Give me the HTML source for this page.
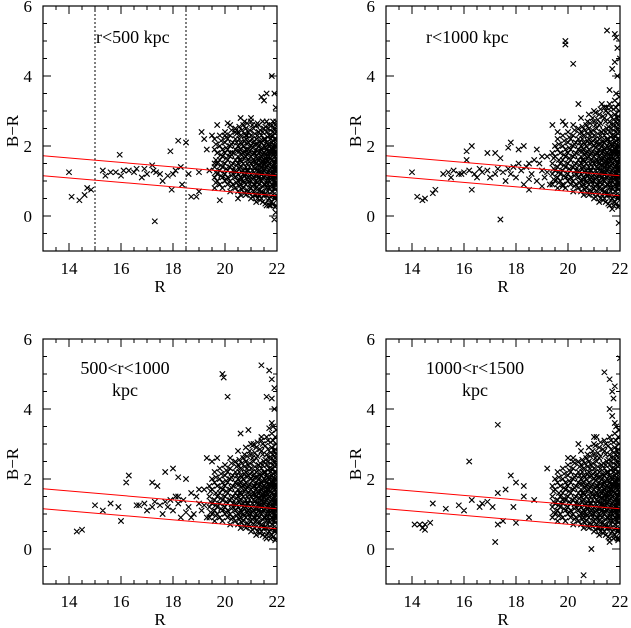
<!DOCTYPE html>
<html><head><meta charset="utf-8">
<style>
html,body{margin:0;padding:0;background:#fff;}
svg{display:block;font-family:"Liberation Serif",serif;}
</style></head>
<body>
<svg id="fig" width="631" height="628" viewBox="0 0 631 628" xmlns="http://www.w3.org/2000/svg"></svg>
<script>
// ---------- data ----------
const cloudX = [19.4,19.5,19.6,19.7,19.8,19.9,20.0,20.1,20.2,20.3,20.4,20.5,20.6,20.7,20.8,20.9,21.0,21.1,21.2,21.3,21.4,21.5,21.6,21.7,21.8,21.9,21.97];
const cloudY = [
 [1.2,1.5,0.9,1.8],
 [1.0,1.3,1.7,2.0],
 [1.4,1.1,1.9,0.8,2.2],
 [1.2,1.5,1.8,1.0],
 [0.9,1.3,1.6,2.0,2.3],
 [1.1,1.4,1.7,1.9,0.8],
 [1.0,1.2,1.5,1.8,2.1,2.4],
 [0.9,1.3,1.6,1.9,2.2,1.1],
 [0.7,1.0,1.4,1.7,2.0,2.3,2.6],
 [0.9,1.2,1.5,1.8,2.1,1.3],
 [0.8,1.1,1.3,1.6,1.9,2.2,2.5],
 [0.7,1.0,1.2,1.5,1.7,2.0,2.4,2.8],
 [0.9,1.1,1.4,1.6,1.9,2.1,2.3,0.6],
 [0.8,1.0,1.3,1.5,1.8,2.0,2.6,1.2],
 [0.6,0.9,1.2,1.4,1.7,1.9,2.2,2.5,2.9],
 [0.7,1.0,1.1,1.3,1.6,1.8,2.1,2.4],
 [0.5,0.8,1.0,1.2,1.5,1.7,2.0,2.3,2.7,3.0],
 [0.7,0.9,1.1,1.4,1.6,1.8,2.1,2.5],
 [0.4,0.8,1.0,1.2,1.3,1.5,1.7,1.9,2.2,2.6,2.9],
 [0.6,0.9,1.1,1.3,1.6,1.8,2.0,2.4],
 [0.5,0.7,1.0,1.2,1.4,1.5,1.7,1.9,2.1,2.3,2.8,3.1],
 [0.6,0.9,1.1,1.3,1.5,1.6,1.8,2.0,2.2,2.5],
 [0.3,0.6,0.8,1.0,1.2,1.4,1.6,1.7,1.9,2.1,2.4,2.7,3.2],
 [0.5,0.8,1.0,1.1,1.3,1.5,1.7,1.8,2.0,2.3,2.6],
 [0.4,0.7,0.9,1.1,1.2,1.4,1.6,1.8,1.9,2.1,2.3,2.6,2.9,3.3],
 [0.5,0.8,1.0,1.2,1.3,1.5,1.7,1.9,2.0,2.2,2.5,2.8],
 [0.3,0.6,0.9,1.1,1.3,1.4,1.6,1.8,2.0,2.2,2.4,2.7,3.0,3.4]
];
const cloudX2 = [19.45,19.65,19.85,20.05,20.25,20.45,20.55,20.65,20.75,20.85,20.95,21.05,21.15,21.25,21.35,21.45,21.55,21.65,21.75,21.85,21.93];
const cloudY2 = [
 [1.35,1.05,1.65],
 [1.25,1.6,0.95,2.05],
 [1.15,1.45,1.75,2.15],
 [1.05,1.35,1.65,1.95,2.25],
 [0.85,1.15,1.45,1.75,2.05,2.45],
 [0.95,1.25,1.45,1.85,2.1,2.35],
 [0.85,1.05,1.35,1.6,1.85,2.2,2.55],
 [0.75,1.05,1.25,1.55,1.75,2.05,2.45],
 [0.65,0.95,1.15,1.35,1.65,1.85,2.15,2.35,2.7],
 [0.75,1.05,1.3,1.5,1.75,2.05,2.3,2.65],
 [0.65,0.9,1.15,1.4,1.55,1.85,2.15,2.45,2.8],
 [0.55,0.85,1.05,1.3,1.55,1.75,1.95,2.2,2.6,2.95],
 [0.6,0.9,1.15,1.35,1.55,1.8,2.05,2.35,2.75],
 [0.5,0.75,0.95,1.15,1.45,1.65,1.85,2.05,2.3,2.65,3.05],
 [0.45,0.75,1.05,1.25,1.45,1.65,1.85,2.15,2.45,2.85],
 [0.4,0.65,0.85,1.05,1.25,1.35,1.55,1.75,1.95,2.15,2.4,2.7,3.0],
 [0.35,0.65,0.9,1.15,1.35,1.55,1.75,1.95,2.2,2.55,2.95],
 [0.45,0.7,0.9,1.05,1.25,1.45,1.55,1.85,2.05,2.25,2.5,2.85,3.1],
 [0.3,0.55,0.85,1.05,1.25,1.35,1.65,1.85,2.05,2.2,2.45,2.75,3.05],
 [0.35,0.6,0.85,1.05,1.25,1.45,1.55,1.75,1.95,2.15,2.4,2.7,3.1,3.5],
 [0.25,0.5,0.75,0.95,1.15,1.35,1.55,1.7,1.85,2.1,2.35,2.6,2.85,3.2]
];
const bandPts = [[15.2,1.2],[15.4,1.25],[15.6,1.3],[15.8,1.2],[16.0,1.25],[16.2,1.3],[16.4,1.2],[16.5,1.1],[16.7,1.25],[16.9,1.3],[17.0,1.1],[17.2,1.2],[17.3,1.35],[17.5,1.25],[17.6,1.0],[17.8,1.2],[17.9,1.4],[18.0,1.1],[18.2,1.3],[18.3,0.9],[18.4,1.4],[18.6,1.2],[18.7,1.6],[18.8,1.0],[18.9,1.5],[19.0,1.3],[19.1,1.1],[19.2,1.7],[19.3,0.9],[18.5,1.05],[18.1,1.5],[17.7,1.35],[19.0,1.7],[19.2,1.25]];
const p1Pts = [[14,1.25],[14.1,0.55],[14.4,0.45],[14.6,0.6],[14.7,0.8],[14.85,0.75],[15.3,1.3],[15.4,1.15],[15.6,1.25],[15.8,1.25],[15.95,1.75],[16,1.15],[16.1,1.3],[16.3,1.3],[16.5,1.25],[16.6,1.35],[16.8,1.1],[16.9,1.35],[17,1.2],[17.2,1.45],[17.25,1.3],[17.3,-0.15],[17.35,1.25],[17.5,1.2],[17.6,1.0],[17.8,1.15],[17.9,1.85],[17.95,0.75],[18,1.2],[18.1,1.3],[18.2,2.15],[18.3,1.4],[18.35,0.9],[18.5,2.1],[18.6,1.2],[18.7,0.55],[18.9,0.55],[19,0.7],[19,1.25],[19.1,2.4],[19.2,2.2],[19.3,1.9],[19.4,1.3],[19.5,2.3],[19.6,1.5],[19.7,2.6],[19.8,0.45],[19.9,1.1],[20,2.3],[20.1,2.65],[20.2,1.8],[20.3,1.5],[20.4,2.4],[20.5,0.5],[20.6,2.8],[20.7,1.3],[20.8,2.3],[20.9,1.9],[21,2.8],[21.1,1.4],[21.2,0.6],[21.3,2.6],[21.4,3.4],[21.5,3.3],[21.6,3.5],[21.7,0.3],[21.8,4.0],[21.9,3.5],[21.95,3.1],[21.9,-0.1],[21.95,0.1]];
const p2Pts = [[14,1.25],[14.2,0.55],[14.5,0.5],[14.4,0.45],[14.8,0.65],[14.9,0.75],[15.5,1.1],[15.9,1.2],[16.1,1.6],[16.1,1.85],[16.3,2.0],[16.3,0.75],[16.6,1.35],[16.9,1.8],[17.2,1.8],[17.4,-0.1],[17.4,1.65],[17.7,1.95],[17.8,2.1],[18.1,1.9],[18.3,2.0],[18.5,1.5],[18.5,0.75],[18.8,1.9],[19.0,0.85],[19.8,0.85],[19.9,5.0],[19.9,4.9],[20.2,4.35],[21.5,5.3],[21.8,5.2],[21.85,5.1],[21.9,4.8],[21.8,4.4],[21.7,4.2],[22,4.5],[21.9,4.0],[21.6,3.6],[21.3,3.2],[21.5,3.1],[20.4,3.2],[19.4,2.6],[19.6,2.4],[19.8,2.7],[19.9,2.6],[21.7,0.2],[21.95,-0.2]];
const p3Pts = [[15,1.25],[14.3,0.5],[14.5,0.55],[15.3,1.1],[15.6,1.3],[15.9,1.2],[16,0.8],[16.2,1.9],[16.3,2.1],[16.6,1.25],[17.2,1.9],[17.4,1.8],[17.7,2.2],[18.0,2.3],[18.2,2.05],[18.5,2.0],[18.2,1.5],[18.7,0.9],[19.3,2.6],[19.5,2.5],[19.7,2.6],[19.9,5.0],[19.95,4.9],[20.1,4.35],[21.4,5.25],[21.7,5.1],[21.8,4.85],[21.9,4.6],[21.8,4.3],[21.6,4.35],[21.9,4.0],[21.7,3.45],[21.4,3.2],[20.6,3.3],[20.9,3.4],[21.1,3.0],[21.8,3.6],[21.6,0.4]];
const p4Pts = [[14.1,0.7],[14.3,0.7],[14.4,0.6],[14.5,0.55],[14.5,0.7],[14.7,0.75],[14.8,1.3],[15.3,1.15],[15.8,1.25],[16.0,1.1],[16.2,2.5],[16.3,1.4],[16.6,1.2],[16.7,1.3],[16.9,1.35],[17.1,1.2],[17.2,0.2],[17.3,3.55],[17.3,1.6],[17.3,0.7],[17.5,0.8],[17.6,1.7],[17.8,2.1],[17.9,1.2],[18.0,1.9],[18.0,0.75],[18.3,1.5],[18.3,1.8],[18.5,0.9],[18.7,1.4],[19.2,2.3],[19.8,1.4],[20.0,2.6],[20.2,2.5],[20.4,3.0],[20.6,1.0],[21.0,3.2],[21.1,3.2],[20.9,0.0],[20.6,-0.75],[21.4,5.05],[21.6,4.85],[22,5.45],[21.7,4.5],[21.8,4.65],[21.75,4.3],[21.6,4.0],[21.7,3.8],[21.8,3.6],[21.95,3.4],[21.9,0.3],[21.2,0.6],[21.6,0.2]];
const xTicks = [14,16,18,20,22];
const yTicks = [0,2,4,6];
const fitUpper = [[13,1.72],[22,1.15]];
const fitLower = [[13,1.15],[22,0.58]];
const dotLines = [15,18.5];

// ---------- drawing ----------
const NS = "http://www.w3.org/2000/svg";
const svg = document.getElementById('fig');
function mk(tag, attrs, parent){
  const e = document.createElementNS(NS, tag);
  for (const k in attrs) e.setAttribute(k, attrs[k]);
  (parent||svg).appendChild(e);
  return e;
}
function cloudPts(maxY){
  const out=[];
  cloudX.forEach((x,i)=>cloudY[i].forEach(y=>{ if(y<=maxY) out.push([x,y]); }));
  cloudX2.forEach((x,i)=>cloudY2[i].forEach(y=>{ if(y<=maxY) out.push([x,y]); }));
  return out;
}
const panels = [
  {ox:43, oy:6, name:'panel-r-lt-500', pts:p1Pts.concat(cloudPts(2.7).filter(p=>p[0]>=19.6)), labels:['r<500 kpc'], lx:[96], ly:[43], anchor:'start', dots:true},
  {ox:386, oy:6, name:'panel-r-lt-1000', pts:p2Pts.concat(bandPts, cloudPts(9)), labels:['r<1000 kpc'], lx:[426], ly:[43], anchor:'start', dots:false},
  {ox:43, oy:339, name:'panel-500-1000', pts:p3Pts.concat(bandPts.filter(p=>p[0]>16.5), cloudPts(9)), labels:['500<r<1000','kpc'], lx:[125,125], ly:[374,396], anchor:'middle', dots:false},
  {ox:386, oy:339, name:'panel-1000-1500', pts:p4Pts.concat(cloudPts(9)), labels:['1000<r<1500','kpc'], lx:[475,475], ly:[374,396], anchor:'middle', dots:false}
];
const W = 234, H = 245;
panels.forEach(P=>{
  const g = mk('g',{});
  
  
  const sx = v => P.ox + (v-13)/9*W;
  const sy = v => P.oy + (6-v)/7*H;
  const cid = 'c'+P.name;
  const cp = mk('clipPath',{id:cid},g);
  mk('rect',{x:P.ox,y:P.oy,width:W,height:H},cp);
  const pg = mk('g',{'clip-path':'url(#'+cid+')',stroke:'#000','stroke-width':'1.1',fill:'none'},g);
  
  
  let d='';
  P.pts.forEach(p=>{
    const x=sx(p[0]), y=sy(p[1]), s=2.7;
    d+=`M${(x-s).toFixed(1)} ${(y-s).toFixed(1)}L${(x+s).toFixed(1)} ${(y+s).toFixed(1)}M${(x-s).toFixed(1)} ${(y+s).toFixed(1)}L${(x+s).toFixed(1)} ${(y-s).toFixed(1)}`;
  });
  const pp = mk('path',{d:d},pg);
  
  
  [fitUpper, fitLower].forEach((L,i)=>{
    const l = mk('line',{x1:sx(L[0][0]),y1:sy(L[0][1]),x2:sx(L[1][0]),y2:sy(L[1][1]),stroke:'#ff0000','stroke-width':'1'},g);
    
    
  });
  if (P.dots){
    dotLines.forEach(v=>{
      const l = mk('line',{x1:sx(v),y1:P.oy,x2:sx(v),y2:P.oy+H,stroke:'#000','stroke-width':'1','stroke-dasharray':'2,2'},g);
      
      
    });
  }
  let td='';
  for (let v=13; v<=22.001; v+=0.5){
    const x=sx(v), len = (Math.abs(v%2)<0.01)?8:4;
    td+=`M${x} ${P.oy+H}v${-len}M${x} ${P.oy}v${len}`;
  }
  for (let v=-1; v<=6.001; v+=0.5){
    const y=sy(v), len = (Math.abs(v%2)<0.01)?8:4;
    td+=`M${P.ox} ${y}h${len}M${P.ox+W} ${y}h${-len}`;
  }
  const tk = mk('path',{d:td,stroke:'#000','stroke-width':'1',fill:'none'},g);
  
  
  const fr = mk('rect',{x:P.ox,y:P.oy,width:W,height:H,fill:'none',stroke:'#000','stroke-width':'1.2'},g);
  
  
  xTicks.forEach(v=>{
    const t = mk('text',{x:sx(v),y:P.oy+H+23,'text-anchor':'middle','font-size':'17'},g);
    
    
    t.textContent = v;
  });
  yTicks.forEach(v=>{
    const t = mk('text',{x:P.ox-11,y:sy(v)+6,'text-anchor':'end','font-size':'17'},g);
    
    
    t.textContent = v;
  });
  const xt = mk('text',{x:P.ox+W/2,y:P.oy+H+41,'text-anchor':'middle','font-size':'17'},g);
  
  
  xt.textContent='R';
  const yt = mk('text',{x:0,y:0,'text-anchor':'middle','font-size':'17',transform:`translate(${P.ox-25},${P.oy+125}) rotate(-90)`},g);
  
  
  yt.textContent='B\u2212R';
  P.labels.forEach((s,i)=>{
    const t = mk('text',{x:P.lx[i],y:P.ly[i],'text-anchor':P.anchor,'font-size':'18'},g);
    
    
    t.textContent = s;
  });
});
</script>
</body></html>
